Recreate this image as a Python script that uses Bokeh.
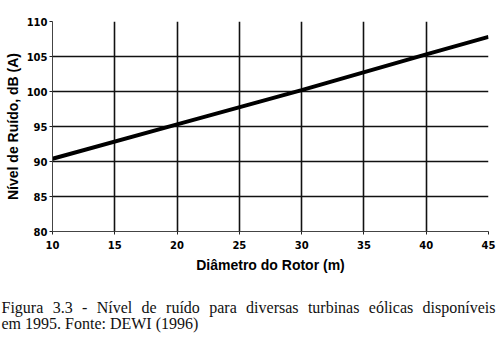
from bokeh.plotting import figure
from bokeh.layouts import column
from bokeh.models import FixedTicker, Range1d
from bokeh.core.properties import value
from bokeh.embed import file_html
from bokeh.resources import INLINE

# ---- data ----
diameter_m = [10, 20, 30, 40, 45]
noise_db = [90.4, 95.3, 100.2, 105.3, 107.8]
x_ticks = [10, 15, 20, 25, 30, 35, 40, 45]
y_ticks = [80, 85, 90, 95, 100, 105, 110]
x_title = "Diâmetro do Rotor (m)"
y_title = "Nível de Ruído, dB (A)"
caption_words = ["Figura", "3.3", "-", "Nível", "de", "ruído", "para",
                 "diversas", "turbinas", "eólicas", "disponíveis"]
caption_line2 = "em 1995. Fonte: DEWI (1996)"

# ---- layout (canvas px) ----
W = 499
HC = 276            # chart figure height
HT = 337 - HC       # caption figure height
BL, BR, BT, BB = 52, 11, 21, HC - 231
word_left = [1, 52.2, 81.5, 96.2, 141.1, 165.6, 208.7, 245.6, 307.4, 368.3]
word_right_last = 495
base1_from_bottom, base2_from_bottom = 30, 14

p = figure(width=W, height=HC, output_backend="svg", toolbar_location=None,
           x_range=Range1d(10, 45), y_range=Range1d(80, 110),
           min_border_left=BL, min_border_right=BR,
           min_border_top=BT, min_border_bottom=BB)
p.outline_line_color = None
p.background_fill_color = "white"
p.border_fill_color = "white"
p.frame_align = False

p.xaxis.ticker = FixedTicker(ticks=x_ticks)
p.yaxis.ticker = FixedTicker(ticks=y_ticks)
p.xgrid.ticker = FixedTicker(ticks=x_ticks[1:])
p.ygrid.ticker = FixedTicker(ticks=y_ticks[1:])
for g in (p.xgrid, p.ygrid):
    g.grid_line_color = "#111111"
    g.grid_line_width = 1.6

for ax in (p.xaxis, p.yaxis):
    ax.axis_line_color = "#444444"
    ax.axis_line_width = 1
    ax.major_tick_in = 0
    ax.major_tick_out = 3
    ax.major_tick_line_color = "#222222"
    ax.minor_tick_in = 0
    ax.minor_tick_out = 2
    ax.minor_tick_line_color = "#999999"
    ax.major_label_text_font = "DejaVu Sans"
    ax.major_label_text_font_style = "bold"
    ax.major_label_text_font_size = "10px"
    ax.major_label_text_color = "black"
    ax.axis_label_text_font = "Liberation Sans"
    ax.axis_label_text_font_style = "bold"
    ax.axis_label_text_font_size = "14px"
    ax.axis_label_text_color = "black"

p.xaxis.axis_label = x_title
p.yaxis.axis_label = y_title
p.xaxis.major_label_standoff = 6
p.xaxis.axis_label_standoff = 5
p.yaxis.major_label_standoff = 2
p.yaxis.axis_label_standoff = 3

p.line(diameter_m, noise_db, line_width=4, line_color="black")

# ---- caption (justified first line) ----
c = figure(width=W, height=HT, output_backend="svg", toolbar_location=None,
           x_range=Range1d(0, W), y_range=Range1d(0, HT),
           x_axis_type=None, y_axis_type=None,
           min_border_left=0, min_border_right=0, min_border_top=0, min_border_bottom=0)
c.outline_line_color = None
c.grid.visible = False
c.background_fill_color = "white"
c.border_fill_color = "white"
c.frame_align = False

n = len(caption_words)
font = dict(text_font=value("Liberation Serif"), text_font_size=value("16px"),
            text_color="#111111", text_baseline="alphabetic")
c.text(x=word_left, y=[base1_from_bottom] * (n - 1), text=caption_words[:-1],
       text_align="left", **font)
c.text(x=[word_right_last], y=[base1_from_bottom], text=caption_words[-1:],
       text_align="right", **font)
c.text(x=[1], y=[base2_from_bottom], text=[caption_line2],
       text_align="left", **font)

layout = column(p, c, spacing=0)
open("out.html", "w").write(file_html(layout, INLINE))
